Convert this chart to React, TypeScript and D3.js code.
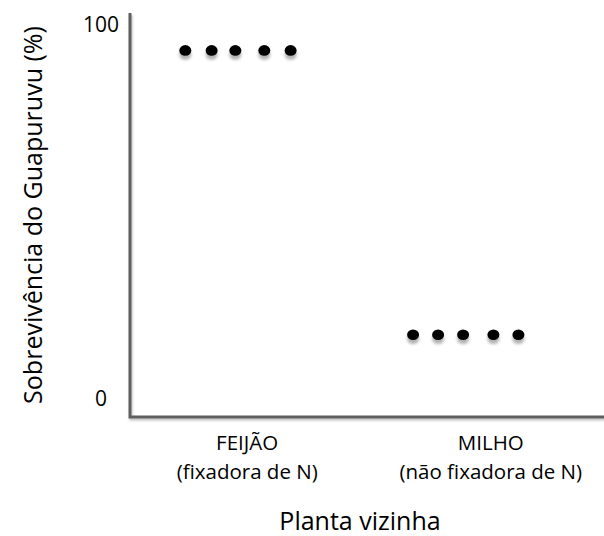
import * as d3 from 'd3'

// survival (%) per neighbour plant, five replicate plots each
const categories = ['FEIJÃO', 'MILHO']
const categoryNotes = ['(fixadora de N)', '(não fixadora de N)']
const categoryPos = [4.45, 13.7]
const feijaoPos = [2.1, 3.1, 4.0, 5.1, 6.1]
const milhoPos = [10.75, 11.7, 12.65, 13.8, 14.75]
const feijaoSurvival = [93, 93, 93, 93, 93]
const milhoSurvival = [17, 17, 17, 17, 17]
const yTicks = [0, 100]

const W = 604
const H = 536
const font = '"Open Sans", sans-serif'

const App = () => {
  const x = d3.scaleLinear().domain([0, 18]).range([130, 604])
  const y = d3.scaleLinear().domain([-5, 103]).range([417, 13])

  const points = [
    ...feijaoPos.map((p, i) => ({ x: p, y: feijaoSurvival[i] })),
    ...milhoPos.map((p, i) => ({ x: p, y: milhoSurvival[i] })),
  ]

  const axisPath = d3.path()
  axisPath.moveTo(x(0), y(103))
  axisPath.lineTo(x(0), y(-5))
  axisPath.lineTo(x(18), y(-5))

  return (
    <svg
      width={W}
      height={H}
      style={{ position: 'absolute', left: 0, top: 0, background: '#fff' }}
    >
      <defs>
        <filter id="dotShadow" x="-50%" y="-50%" width="200%" height="250%">
          <feDropShadow dx="0" dy="4" stdDeviation="1.6" floodColor="#000" floodOpacity="0.3" />
        </filter>
        <filter id="axisShadow" x="-5%" y="-5%" width="110%" height="110%">
          <feDropShadow dx="1" dy="2" stdDeviation="1" floodColor="#000" floodOpacity="0.25" />
        </filter>
      </defs>

      <path
        d={axisPath.toString()}
        fill="none"
        stroke="#5f5f5f"
        strokeWidth={3}
        filter="url(#axisShadow)"
      />

      {yTicks.map((t) => (
        <text
          key={t}
          x={101}
          y={y(t) + 7.5}
          textAnchor="middle"
          fontFamily={font}
          fontSize={21}
          fill="#000"
        >
          {t}
        </text>
      ))}

      <text
        transform={`translate(42,${(y(103) + y(-5)) / 2}) rotate(-90)`}
        textAnchor="middle"
        fontFamily={font}
        fontSize={25}
        fill="#000"
      >
        Sobrevivência do Guapuruvu (%)
      </text>

      {points.map((d, i) => (
        <ellipse
          key={i}
          cx={x(d.x)}
          cy={y(d.y)}
          rx={6}
          ry={5.3}
          fill="#000"
          filter="url(#dotShadow)"
        />
      ))}

      {categories.map((c, i) => (
        <g key={c} fontFamily={font} fontSize={20.5} fill="#000" textAnchor="middle">
          <text x={x(categoryPos[i])} y={450}>
            {c}
          </text>
          <text x={x(categoryPos[i])} y={478.5}>
            {categoryNotes[i]}
          </text>
        </g>
      ))}

      <text x={360} y={530} textAnchor="middle" fontFamily={font} fontSize={25} fill="#000">
        Planta vizinha
      </text>
    </svg>
  )
}

export default App
